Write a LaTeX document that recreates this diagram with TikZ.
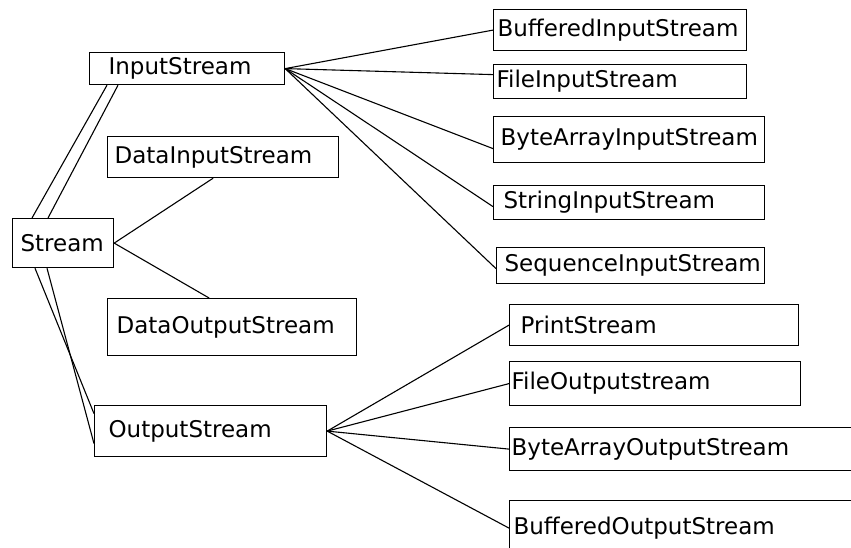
\documentclass[tikz,border=0pt]{standalone}
\usepackage{fontspec}
\setmainfont{DejaVu Sans}
\usepackage{tikz}

\tikzset{
  classbox/.style={draw, line width=1.2pt, anchor=north west, inner xsep=0pt, inner ysep=0pt,
    align=left, font=\fontsize{23}{27}\selectfont},
  link/.style={line width=1.1pt}
}

\begin{document}
\begin{tikzpicture}[x=1pt,y=1pt,yscale=-1,xscale=1]
\useasboundingbox (0,0) rectangle (851,547);

% Text Node
\node [classbox, text width=195, minimum height=32] (in) at (89,52) {\hspace*{19pt}InputStream};
% Text Node
\node [classbox, text width=231, minimum height=41] (dis) at (107,136) {\hspace*{7pt}DataInputStream};
% Text Node
\node [classbox, text width=101, minimum height=49] (st) at (12,218) {\hspace*{8pt}Stream};
% Text Node
\node [classbox, text width=249, minimum height=57] (dos) at (107,298) {\hspace*{9pt}DataOutputStream};
% Text Node
\node [classbox, text width=232, minimum height=51] (os) at (94,405) {\hspace*{14pt}OutputStream};
% Text Node
\node [classbox, text width=253, minimum height=41] (bis) at (493,9) {\hspace*{4pt}BufferedInputStream};
% Text Node
\node [classbox, text width=253, minimum height=34] (fis) at (493,64) {\hspace*{3pt}FileInputStream};
% Text Node
\node [classbox, text width=271, minimum height=46] (bais) at (493,116) {\hspace*{7pt}ByteArrayInputStream};
% Text Node
\node [classbox, text width=271, minimum height=34] (sis) at (493,185) {\hspace*{10pt}StringInputStream};
% Text Node
\node [classbox, text width=268, minimum height=36] (seqis) at (496,247) {\hspace*{8pt}\mbox{SequenceInputStream}};
% Text Node
\node [classbox, text width=289, minimum height=41] (ps) at (509,304) {\hspace*{11pt}PrintStream};
% Text Node
\node [classbox, text width=291, minimum height=44] (fos) at (509,361) {\hspace*{2pt}FileOutputstream};
% Text Node
\node [classbox, text width=350, minimum height=43] (baos) at (509,427) {\hspace*{2pt}ByteArrayOutputStream};
% Text Node
\node [classbox, text width=350, minimum height=55] (bos) at (509,500) {\hspace*{4pt}BufferedOutputStream};

% Connection
\draw [link] ([xshift=20]st.north west) -- ([xshift=18]in.south west);
% Connection
\draw [link] ([xshift=36]st.north west) -- ([xshift=29]in.south west);
% Connection
\draw [link] ([xshift=23]st.south west) -- ([yshift=-17.5]os.west);
% Connection
\draw [link] ([xshift=35]st.south west) -- ([yshift=12.5]os.west);
% Connection
\draw [link] (st.east) -- ([xshift=-10]dis.south);
% Connection
\draw [link] (st.east) -- ([xshift=-23]dos.north);
% Connection
\draw [link] (in.east) -- (bis.west);
% Connection
\draw [link] (in.east) -- ([yshift=-7]fis.west);
% Connection
\draw [link] (in.east) -- ([yshift=9]bais.west);
% Connection
\draw [link] (in.east) -- ([yshift=4]sis.west);
% Connection
\draw [link] (in.east) -- ([yshift=3]seqis.west);
% Connection
\draw [link] (os.east) -- (ps.west);
% Connection
\draw [link] (os.east) -- (fos.west);
% Connection
\draw [link] (os.east) -- (baos.west);
% Connection
\draw [link] (os.east) -- (bos.west);

\end{tikzpicture}
\end{document}
